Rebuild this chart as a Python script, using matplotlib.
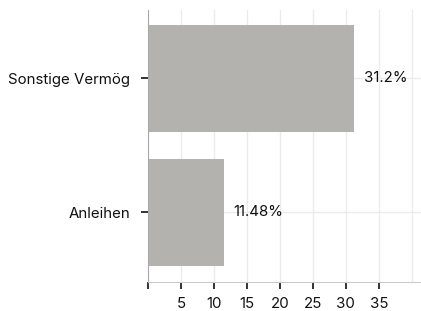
import matplotlib
matplotlib.use("Agg")
import matplotlib.pyplot as plt

categories = ["Anleihen", "Sonstige Vermög"]
values = [11.48, 31.2]
value_labels = ["11.48%", "31.2%"]
xticks = [0, 5, 10, 15, 20, 25, 30, 35]
xtick_labels = ["", "5", "10", "15", "20", "25", "30", "35"]

plt.rcParams["font.family"] = ["Inter", "DejaVu Sans"]

fig = plt.figure(figsize=(4.21, 3.11), dpi=100)
ax = fig.add_axes([148 / 421, 29 / 311, 273 / 421, 272 / 311])

ax.barh(range(len(categories)), values, height=0.8, color="#b3b2ae", zorder=2)
for i, (v, lab) in enumerate(zip(values, value_labels)):
    ax.text(v + 1.5, i, lab, va="center", ha="left", fontsize=10.8, color="#111111")

ax.set_xlim(0, 41.4)
ax.set_ylim(-0.52, 1.51)
ax.set_yticks(range(len(categories)))
ax.set_yticklabels(categories, fontsize=10.8, color="#111111")
ax.set_xticks(xticks)
ax.set_xticklabels(xtick_labels, fontsize=10.8, color="#111111")

# grid, including the unlabelled line at 40
for x in xticks + [40]:
    ax.axvline(x, color="#ebebeb", lw=1, zorder=0)
for y in range(len(categories)):
    ax.axhline(y, color="#ebebeb", lw=1, zorder=0)

ax.tick_params(axis="y", length=5, width=1.2, color="#111111", pad=8)
ax.tick_params(axis="x", length=5, width=1.2, color="#111111", pad=6)

for s in ["top", "right"]:
    ax.spines[s].set_visible(False)
ax.spines["left"].set_color("#aaaaaa")
ax.spines["bottom"].set_color("#cccccc")

fig.savefig("out.png", dpi=100)
